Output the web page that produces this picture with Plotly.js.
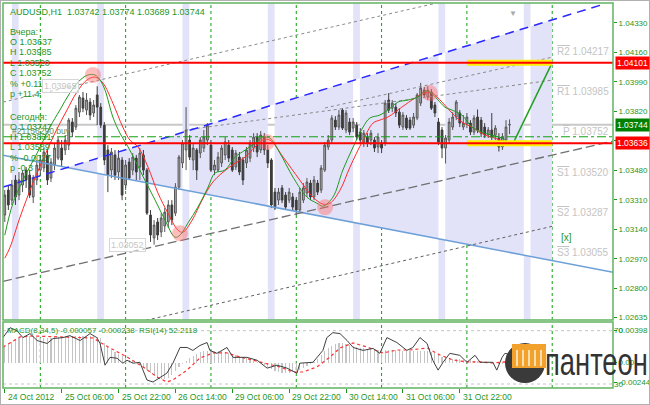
<!DOCTYPE html>
<html><head><meta charset="utf-8">
<script src="https://cdn.plot.ly/plotly-3.0.1.min.js"></script>
<style>html,body{margin:0;padding:0;background:#fff;}#chart{width:650px;height:405px;}</style>
</head><body><div id="chart"></div>
<script>
// ---------- DATA ----------
const symbolTitle = "AUDUSD,H1  1.03742 1.03774 1.03689 1.03744";
const infoYesterday = ["Вчера:", "O 1.03637", "H 1.03985", "L 1.03520", "C 1.03752", "% +0.11", "p +11.4"];
const infoToday = ["Сегодня:", "O 1.03747", "H 1.03831", "L 1.03589", "% -0.0027", "p -0.3"];
const timeLabels = ["24 Oct 2012","25 Oct 06:00","25 Oct 22:00","26 Oct 14:00","29 Oct 06:00","29 Oct 22:00","30 Oct 14:00","31 Oct 06:00","31 Oct 22:00"];
const timeLabelBars = [0,16,32,48,64,80,96,112,128];
const dayStartBars = [10,34,58,82,106,130,154];
const sessionBars = [2,26,50,74,98,122,146];
const priceTicks = [1.04330,1.04160,1.03990,1.03820,1.03650,1.03480,1.03310,1.03140,1.02970,1.02800,1.02635];
const priceTickText = ["1.04330","1.04160","1.03990","1.03820","","1.03480","1.03310","1.03140","1.02970","1.02800","1.02635"];

const opens = [1.03223,1.03367,1.03309,1.03425,1.03338,1.03396,1.03482,1.03453,1.03327,1.03425,
1.03482,1.03494,1.03569,1.03436,1.03511,1.03551,1.03609,1.03598,1.03626,1.03759,
1.03730,1.03816,1.03897,1.03828,1.03874,1.03811,1.03915,1.03845,1.03741,1.03598,
1.03482,1.03569,1.03471,1.03540,1.03396,1.03528,1.03482,1.03551,1.03500,1.03569,
1.03482,1.03223,1.03091,1.03183,1.03125,1.03160,1.03183,1.03281,1.03234,1.03384,
1.03523,1.03598,1.03655,1.03540,1.03598,1.03580,1.03609,1.03655,1.03626,1.03482,
1.03482,1.03523,1.03569,1.03626,1.03598,1.03500,1.03557,1.03540,1.03523,1.03551,
1.03609,1.03672,1.03598,1.03672,1.03598,1.03540,1.03355,1.03309,1.03379,1.03338,
1.03309,1.03327,1.03309,1.03252,1.03309,1.03350,1.03407,1.03327,1.03407,1.03367,
1.03482,1.03615,1.03655,1.03770,1.03730,1.03828,1.03713,1.03759,1.03724,1.03741,
1.03701,1.03644,1.03672,1.03655,1.03655,1.03615,1.03637,1.03638,1.03886,1.03839,
1.03845,1.03816,1.03730,1.03782,1.03770,1.03741,1.03782,1.03868,1.03943,1.03903,
1.03932,1.03857,1.03759,1.03713,1.03609,1.03655,1.03730,1.03788,1.03811,1.03730,
1.03747,1.03753,1.03701,1.03788,1.03770,1.03730,1.03684,1.03713,1.03684,1.03667,
1.03615,1.03655,1.03742];
const highs = [1.03367,1.03396,1.03425,1.03453,1.03471,1.03482,1.03500,1.03482,1.03453,1.03540,
1.03569,1.03609,1.03598,1.03551,1.03638,1.03672,1.03655,1.03684,1.03782,1.03782,
1.03857,1.03915,1.03932,1.03926,1.03897,1.03886,1.03965,1.03868,1.03759,1.03626,
1.03609,1.03598,1.03598,1.03557,1.03540,1.03551,1.03580,1.03569,1.03609,1.03598,
1.03494,1.03252,1.03194,1.03206,1.03234,1.03263,1.03309,1.03309,1.03407,1.03569,
1.03655,1.03845,1.03684,1.03638,1.03609,1.03672,1.03713,1.03753,1.03655,1.03540,
1.03586,1.03626,1.03672,1.03655,1.03615,1.03598,1.03586,1.03557,1.03615,1.03655,
1.03695,1.03695,1.03707,1.03695,1.03626,1.03551,1.03379,1.03379,1.03396,1.03355,
1.03379,1.03350,1.03327,1.03379,1.03407,1.03436,1.03425,1.03448,1.03425,1.03511,
1.03644,1.03684,1.03799,1.03793,1.03828,1.03839,1.03828,1.03782,1.03782,1.03759,
1.03724,1.03713,1.03695,1.03713,1.03672,1.03695,1.03655,1.03886,1.03926,1.03886,
1.03868,1.03839,1.03816,1.03799,1.03788,1.03811,1.03926,1.03985,1.03961,1.03966,
1.03949,1.03874,1.03782,1.03730,1.03684,1.03782,1.03816,1.03886,1.03828,1.03799,
1.03811,1.03770,1.03799,1.03831,1.03788,1.03753,1.03730,1.03811,1.03741,1.03695,
1.03695,1.03770,1.03774];
const lows = [1.03183,1.03252,1.03281,1.03281,1.03309,1.03355,1.03379,1.03321,1.03292,1.03396,
1.03453,1.03471,1.03396,1.03413,1.03482,1.03540,1.03500,1.03569,1.03598,1.03672,
1.03713,1.03788,1.03816,1.03799,1.03770,1.03788,1.03741,1.03724,1.03511,1.03355,
1.03436,1.03425,1.03425,1.03309,1.03367,1.03425,1.03453,1.03425,1.03425,1.03453,
1.03223,1.03068,1.03052,1.03079,1.03096,1.03125,1.03148,1.03165,1.03217,1.03367,
1.03494,1.03482,1.03540,1.03482,1.03425,1.03551,1.03586,1.03626,1.03471,1.03453,
1.03471,1.03500,1.03540,1.03528,1.03471,1.03482,1.03453,1.03396,1.03494,1.03528,
1.03586,1.03557,1.03580,1.03569,1.03494,1.03263,1.03252,1.03281,1.03292,1.03252,
1.03292,1.03252,1.03223,1.03234,1.03292,1.03327,1.03309,1.03309,1.03338,1.03350,
1.03471,1.03598,1.03638,1.03713,1.03713,1.03713,1.03695,1.03684,1.03701,1.03655,
1.03638,1.03615,1.03615,1.03626,1.03586,1.03580,1.03580,1.03621,1.03811,1.03816,
1.03788,1.03724,1.03713,1.03713,1.03713,1.03724,1.03770,1.03851,1.03897,1.03886,
1.03828,1.03788,1.03626,1.03551,1.03520,1.03638,1.03713,1.03770,1.03730,1.03713,
1.03724,1.03684,1.03684,1.03695,1.03672,1.03667,1.03667,1.03655,1.03655,1.03589,
1.03598,1.03638,1.03689];
const closes = [1.03338,1.03281,1.03396,1.03327,1.03425,1.03465,1.03425,1.03338,1.03436,1.03511,
1.03540,1.03586,1.03425,1.03528,1.03609,1.03655,1.03540,1.03655,1.03770,1.03701,
1.03839,1.03903,1.03839,1.03886,1.03799,1.03857,1.03845,1.03741,1.03540,1.03453,
1.03586,1.03453,1.03551,1.03338,1.03511,1.03436,1.03557,1.03471,1.03580,1.03482,
1.03234,1.03108,1.03165,1.03108,1.03206,1.03240,1.03281,1.03194,1.03384,1.03557,
1.03638,1.03713,1.03557,1.03609,1.03482,1.03655,1.03672,1.03741,1.03482,1.03511,
1.03557,1.03609,1.03644,1.03551,1.03482,1.03580,1.03471,1.03425,1.03598,1.03638,
1.03672,1.03586,1.03684,1.03598,1.03523,1.03281,1.03263,1.03355,1.03309,1.03269,
1.03355,1.03269,1.03252,1.03355,1.03379,1.03413,1.03327,1.03425,1.03355,1.03494,
1.03626,1.03655,1.03782,1.03730,1.03799,1.03724,1.03811,1.03701,1.03759,1.03672,
1.03655,1.03695,1.03638,1.03695,1.03609,1.03672,1.03609,1.03868,1.03828,1.03868,
1.03811,1.03741,1.03799,1.03724,1.03724,1.03788,1.03915,1.03955,1.03915,1.03943,
1.03839,1.03811,1.03644,1.03609,1.03667,1.03759,1.03788,1.03874,1.03753,1.03752,
1.03788,1.03701,1.03782,1.03713,1.03695,1.03684,1.03713,1.03672,1.03724,1.03615,
1.03672,1.03730,1.03744];

const maFastX = [0,2.3,5.1,9.1,12.7,15.5,18.3,21.2,23.4,25.4,26.8,28.2,30.4,32.4,34.7,36.6,39.4,42.3,45.1,47.9,49.3,51.5,54.3,57.2,59.1,61.9,64.8,67.6,70.4,72.6,74.6,77.4,81.1,85.0,87.8,89.5,92.3,95.1,98.0,100.8,102.7,105.5,107.8,110.6,113.4,116.2,118.2,119.6,121.9,123.8,125.8,128.6,131.4,134.2,137.0,139.9,141.3];
const maFastY = [1.03107,1.03291,1.03424,1.03580,1.03730,1.03828,1.03926,1.04001,1.04030,1.04030,1.04001,1.03943,1.03788,1.03695,1.03615,1.03540,1.03424,1.03309,1.03193,1.03095,1.03107,1.03176,1.03268,1.03384,1.03465,1.03482,1.03557,1.03597,1.03638,1.03672,1.03666,1.03580,1.03441,1.03326,1.03291,1.03274,1.03326,1.03482,1.03615,1.03730,1.03782,1.03799,1.03828,1.03874,1.03886,1.03903,1.03938,1.03932,1.03886,1.03845,1.03828,1.03799,1.03730,1.03701,1.03684,1.03666,1.03643];
const maSlowX = [0,1.5,4.3,7.9,10.7,14.1,17.5,20.3,23.1,25.4,27.6,30.4,33.2,35.2,37.5,40.3,43.1,45.9,48.7,50.1,52.7,55.5,58.3,61.1,64.8,67.6,70.4,72.6,74.6,78.3,83.0,86.7,89.5,91.5,94.3,97.1,100.8,103.6,105.5,107.8,111.7,115.4,118.2,120.2,123.0,125.8,128.6,131.4,135.1,137.9,140.7];
const maSlowY = [1.02974,1.03038,1.03211,1.03407,1.03540,1.03695,1.03828,1.03932,1.04001,1.04018,1.03984,1.03868,1.03730,1.03655,1.03615,1.03499,1.03349,1.03234,1.03136,1.03124,1.03193,1.03309,1.03407,1.03465,1.03522,1.03557,1.03615,1.03655,1.03655,1.03557,1.03424,1.03326,1.03286,1.03291,1.03366,1.03499,1.03655,1.03753,1.03770,1.03788,1.03845,1.03897,1.03926,1.03926,1.03874,1.03811,1.03759,1.03730,1.03684,1.03666,1.03643];

const pivotX = [24.8,49.3,73.8,90.1,119.6];
const pivotY = [1.04030,1.03118,1.03643,1.03268,1.03926];

const macdHist = [0.00211,0.00236,0.00261,0.00286,0.00311,0.00323,0.00336,0.00336,0.00336,0.00323,
0.00311,0.00311,0.00311,0.00311,0.00323,0.00323,0.00323,0.00336,0.00336,0.00336,
0.00336,0.00336,0.00336,0.00336,0.00336,0.00336,0.00323,0.00311,0.00249,0.00199,
0.00162,0.00137,0.00112,0.00087,0.00062,0.00037,0.00025,0,-0.00025,-0.00050,
-0.00087,-0.00124,-0.00162,-0.00187,-0.00199,-0.00199,-0.00187,-0.00149,-0.00100,-0.00050,
-0.00012,0.00025,0.00062,0.00087,0.00112,0.00137,0.00149,0.00149,0.00149,0.00149,
0.00149,0.00149,0.00137,0.00124,0.00112,0.00100,0.00087,0.00075,0.00062,0.00050,
0.00037,0.00012,0,-0.00025,-0.00050,-0.00075,-0.00100,-0.00112,-0.00124,-0.00124,
-0.00124,-0.00112,-0.00100,-0.00087,-0.00062,-0.00037,-0.00012,0.00012,0.00050,0.00100,
0.00149,0.00187,0.00211,0.00236,0.00249,0.00249,0.00236,0.00224,0.00211,0.00199,
0.00187,0.00187,0.00174,0.00174,0.00162,0.00162,0.00162,0.00162,0.00162,0.00162,
0.00162,0.00162,0.00149,0.00149,0.00149,0.00149,0.00149,0.00149,0.00149,0.00149,
0.00137,0.00124,0.00100,0.00075,0.00062,0.00050,0.00050,0.00050,0.00050,0.00037,
0.00037,0.00037,0.00025,0.00025,0.00025,0.00012,0.00012,0,0,-0.00012,
-0.00012,0,0];
const sigX = [-0.5,4.3,7.9,17.5,24.8,29.6,34.4,38.9,42.8,45.6,47.3,51.3,54.9,58.6,62.5,66.2,71.8,77.4,81.1,83.9,87.8,91.5,94.3,98.0,101.9,106.4,110.3,114.0,118.8,122.4,126.1,130.0,133.7,137.3,140.7,142];
const sigY = [0.00195,0.00320,0.00332,0.00320,0.00307,0.00183,0.00071,-0.00053,-0.00178,-0.00240,-0.00215,-0.00091,0.00058,0.00121,0.00121,0.00071,0.00009,-0.00053,-0.00116,-0.00116,-0.00053,0.00071,0.00183,0.00245,0.00195,0.00121,0.00158,0.00158,0.00183,0.00096,0.00034,0.00009,0.00009,-0.00004,0.00009,-0.00024];
const rsiX = [-0.5,1.5,3.4,5.1,7.1,9.1,11.9,13.6,16.4,18.3,21.2,24.0,25.9,26.8,28.2,29.6,31.6,33.2,34.4,36.1,38.0,40.0,41.7,43.7,45.6,47.3,49.3,51.3,52.9,54.9,56.9,57.7,59.7,62.5,64.2,68.1,71.0,73.8,76.6,79.4,82.2,83.0,86.7,89.5,90.6,92.3,94.3,96.3,98.0,100.8,103.6,105.5,107.5,110.3,113.1,114.8,116.8,118.8,120.4,121.9,123.3,125.2,128.0,130.0,132.3,133.7,137.3,138.4,139.9,140.7,142];
const rsiY = [64.8,72.2,70,64.8,67.8,62.6,60.4,64.1,64.8,66.3,62.6,67.8,64.8,60.4,44.1,50,49.3,45.6,47.8,45.6,46.3,33,31.5,35.2,38.1,45.6,57.4,57.4,55.2,58.9,61.1,55.2,53,57.4,50,50,47.8,41.9,44.1,41.9,38.1,45.6,46.3,55.2,64.8,68.5,67.8,62.6,57.4,55.2,56.7,53,64.8,61.1,55.2,57.4,64.8,60.4,47.8,40.4,46.3,53,51.5,46.3,51.5,46.3,46.3,40.4,50,53,52.2];

// trend lines: [bar, price] endpoints
const channelUpperX = [-0.5,168.8], channelUpperY = [1.03384,1.04440];
const channelLowerX = [-0.5,171.1], channelLowerY = [1.03568,1.02893];
const dotA_X = [-0.5,120.5], dotA_Y = [1.03874,1.04440];
const dotB_X = [90.1,154.2], dotB_Y = [1.03840,1.04134];
const dotC_X = [50.7,154.2], dotC_Y = [1.03713,1.04001];
const dashD_X = [-0.5,171.1], dashD_Y = [1.02841,1.03649];
const dotE_X = [39.7,154.2], dotE_Y = [1.02616,1.03159];
const forecastX = [143,154], forecastY = [1.03636,1.04101];
const triangleEndBar = 154;

const resistLevel = 1.04101, supportLevel = 1.03636, bidPrice = 1.03744, orderPrice = 1.03674;
const zoneStartBar = 130, zoneEndBar = 154;
const pivotNames = ["R2","R1","P","S1","S2","S3"];
const pivotLevels = [1.04217,1.03985,1.03752,1.03520,1.03287,1.03055];
const hiLabel = {bar:10.5, price:1.03965}, loLabel = {bar:29.3, price:1.03052};
const macdText = "MACD(8,34,5) -0.000057 -0.000238  RSI(14) 52.2118";

// ---------- GEOMETRY ----------
const W=650,H=405,ML=3,MR=37,MT=3,MB=17,PW=W-ML-MR,PH=H-MT-MB;
const px = x => (x-ML)/PW, py = y => (H-MB-y)/PH;
const mainDom=[py(320),1], subDom=[0,py(322)];
const xR=[-0.5,171.1], yR=[1.02618,1.04445];
const GREEN='#1f961f', FONT='Liberation Sans, Arial, sans-serif';
const bars = closes.map((c,i)=>i);

function lineAt(X,Y,x){return Y[0]+(Y[1]-Y[0])*(x-X[0])/(X[1]-X[0]);}
const up = x=>lineAt(channelUpperX,channelUpperY,x), lo = x=>lineAt(channelLowerX,channelLowerY,x);
const s1=(channelUpperY[1]-channelUpperY[0])/(channelUpperX[1]-channelUpperX[0]);
const s2=(channelLowerY[1]-channelLowerY[0])/(channelLowerX[1]-channelLowerX[0]);
const ix = channelUpperX[0] + (lo(channelUpperX[0])-channelUpperY[0])/(s1-s2);

const shapes=[];
const LAV='#e2e3f8';
function poly(pts,color){return {type:'path',xref:'x',yref:'y',layer:'below',line:{width:0},fillcolor:color,
  path:'M'+pts.map(p=>p[0]+','+p[1]).join('L')+'Z'};}
let cuts=[ix];
sessionBars.forEach(b=>{ if(b>ix && b<triangleEndBar){cuts.push(b);cuts.push(Math.min(b+1.9,triangleEndBar));}});
cuts.push(triangleEndBar);
for(let k=0;k<cuts.length;k+=2){const a=cuts[k],b=cuts[k+1]; if(b>a) shapes.push(poly([[a,up(a)],[b,up(b)],[b,lo(b)],[a,lo(a)]],LAV));}
sessionBars.forEach(b=>{const b1=b+1.9;
  if(b<ix || b>=triangleEndBar){ shapes.push(poly([[b,yR[0]],[b1,yR[0]],[b1,yR[1]],[b,yR[1]]],LAV)); }
  else { shapes.push(poly([[b,yR[1]],[b1,yR[1]],[b1,up(b1)],[b,up(b)]],LAV));
         shapes.push(poly([[b,lo(b)],[b1,lo(b1)],[b1,yR[0]],[b,yR[0]]],LAV)); }
});
dayStartBars.forEach(b=>{
  [mainDom,subDom].forEach(d=>shapes.push({type:'line',xref:'x',yref:'paper',x0:b,x1:b,y0:d[0],y1:d[1],layer:'below',line:{color:'#10a010',width:1,dash:'3px,3px'}}));
});
shapes.push({type:'line',xref:'paper',yref:'y',x0:0,x1:1,y0:bidPrice,y1:bidPrice,layer:'below',line:{color:'#c8c8c8',width:2}});
shapes.push({type:'line',xref:'paper',yref:'y',x0:0,x1:1,y0:orderPrice,y1:orderPrice,layer:'above',line:{color:'#10a010',width:1,dash:'dashdot'}});
[resistLevel,supportLevel].forEach(v=>{
  shapes.push({type:'line',xref:'x',yref:'y',x0:zoneStartBar,x1:zoneEndBar,y0:v,y1:v,layer:'above',line:{color:'#ffee00',width:6}});
  shapes.push({type:'line',xref:'paper',yref:'y',x0:0,x1:1,y0:v,y1:v,layer:'above',line:{color:'#ff0000',width:2}});
});
[70,30].forEach(v=>shapes.push({type:'line',xref:'paper',yref:'y3',x0:0,x1:1,y0:v,y1:v,layer:'below',line:{color:'#c4c4c4',width:1,dash:'3px,3px'}}));
[mainDom,subDom].forEach(d=>shapes.push({type:'rect',xref:'paper',yref:'paper',x0:0,x1:1,y0:d[0],y1:d[1],layer:'above',line:{color:'#62b462',width:1.5}}));
shapes.push({type:'rect',xref:'paper',yref:'paper',x0:px(0),x1:px(650),y0:py(405),y1:py(0),layer:'above',line:{color:'#b0b0b0',width:2}});
// logo icon
shapes.push({type:'circle',xref:'paper',yref:'paper',x0:px(505),x1:px(545),y0:py(383),y1:py(343),layer:'above',fillcolor:'#3a3a3a',line:{width:0}});
shapes.push({type:'rect',xref:'paper',yref:'paper',x0:px(512),x1:px(546),y0:py(368),y1:py(344),layer:'above',fillcolor:'#f2a22c',line:{width:0}});
[517,523,529,535,541].forEach(x=>shapes.push({type:'line',xref:'paper',yref:'paper',x0:px(x),x1:px(x),y0:py(366),y1:py(350),layer:'above',line:{color:'#fff3d8',width:1.5}}));

// ---------- TRACES ----------
const traces=[];
function tl(X,Y,color,width,dash,ya){traces.push({type:'scatter',mode:'lines',x:X,y:Y,yaxis:ya||'y',line:{color:color,width:width,dash:dash||'solid'},hoverinfo:'skip',cliponaxis:true});}
tl(channelLowerX,channelLowerY,'#6ea0d8',1.5,'solid');
tl(dashD_X,dashD_Y,'#707070',1.3,'9px,4px');
tl(dotE_X,dotE_Y,'#606060',1,'3px,3px');
tl(dotA_X,dotA_Y,'#8a8a8a',1,'3px,3px');
tl(dotB_X,dotB_Y,'#8a8a8a',1,'3px,3px');
tl(dotC_X,dotC_Y,'#8a8a8a',1,'3px,3px');
tl(channelUpperX,channelUpperY,'#2828ff',1.5,'9px,6px');
traces.push({type:'candlestick',x:bars,open:opens,high:highs,low:lows,close:closes,whiskerwidth:0,
  increasing:{line:{color:'#555555',width:1},fillcolor:'#b4b4b4'},decreasing:{line:{color:'#3c3c3c',width:1},fillcolor:'#3c3c3c'},hoverinfo:'skip',showlegend:false});
traces.push({type:'scatter',mode:'lines',x:maSlowX,y:maSlowY,line:{color:'#ff2a2a',width:1,shape:'spline'},hoverinfo:'skip'});
traces.push({type:'scatter',mode:'lines',x:maFastX,y:maFastY,line:{color:'#1e9a1e',width:1,shape:'spline'},hoverinfo:'skip'});
traces.push({type:'scatter',mode:'markers',x:pivotX,y:pivotY,marker:{size:16,color:'rgba(255,110,110,0.45)',line:{width:0}},hoverinfo:'skip'});
tl(forecastX,forecastY,'#22a022',1.5,'solid');
traces.push({type:'bar',x:bars,y:macdHist,yaxis:'y2',marker:{color:'#c4c4c4',line:{width:0}},width:0.32,hoverinfo:'skip'});
tl(sigX,sigY,'#ff3030',1.2,'dot','y2');
tl(rsiX,rsiY,'#404040',1,'solid','y3');

// ---------- ANNOTATIONS ----------
const ann=[];
function txt(x,y,text,o){ann.push(Object.assign({xref:'paper',yref:'paper',x:px(x),y:py(y),text:text,showarrow:false,xanchor:'left',yanchor:'middle',font:{family:FONT,size:9,color:GREEN}},o||{}));}
txt(8,11.7,symbolTitle);
const yPosY=[31.7,41.7,52.3,62.7,73.3,84,94.3];
infoYesterday.forEach((t,k)=>txt(8,yPosY[k],t));
const yPosT=[116.7,126.7,136.7,146.7,158.3,168.3];
infoToday.forEach((t,k)=>txt(8,yPosT[k],t));
txt(10,131,'#21156290 buy',{font:{family:FONT,size:8.5,color:'#5f8f5f'}});
txt(5,330.5,macdText,{font:{family:FONT,size:8,color:GREEN}});
timeLabels.forEach((t,k)=>ann.push({xref:'x',yref:'paper',x:timeLabelBars[k],y:0,yshift:-2,xshift:1,xanchor:'left',yanchor:'top',text:t,showarrow:false,font:{family:FONT,size:8.5,color:GREEN}}));
pivotNames.forEach((n,k)=>ann.push({xref:'paper',yref:'y',x:1,xshift:-2,y:pivotLevels[k],yshift:-1,xanchor:'right',yanchor:'top',showarrow:false,
  text:'<span style="text-decoration:overline">'+n+'</span> '+pivotLevels[k].toFixed(5),font:{family:FONT,size:10,color:'#c4c4c4'}}));
[[resistLevel,'#ff0000'],[bidPrice,'#008000'],[supportLevel,'#ff0000']].forEach(a=>ann.push({xref:'paper',yref:'y',x:1,xshift:2,y:a[0],xanchor:'left',yanchor:'middle',
  text:a[0].toFixed(5),showarrow:false,bgcolor:a[1],borderpad:1,font:{family:FONT,size:8.5,color:'#ffffff'}}));
[hiLabel,loLabel].forEach(l=>ann.push({xref:'x',yref:'y',x:l.bar,y:l.price,xanchor:'left',yanchor:'middle',text:l.price.toFixed(5),showarrow:false,
  bordercolor:'#d6d6d6',borderwidth:1,borderpad:1,bgcolor:'rgba(255,255,255,0.5)',font:{family:FONT,size:9,color:'#c6c6c6'}}));
ann.push({xref:'x',yref:'y',x:158,y:1.03095,text:'[x]',showarrow:false,font:{family:FONT,size:10,color:GREEN}});
ann.push({xref:'x',yref:'paper',x:143,y:1,yshift:-4,text:'▼',showarrow:false,font:{family:FONT,size:8,color:'#a8a8a8'}});
ann.push({xref:'paper',yref:'paper',x:px(596),y:py(362),text:'пантеон',showarrow:false,xanchor:'center',yanchor:'middle',font:{family:FONT,size:38,color:'#333333'}});

const layout={width:W,height:H,margin:{l:ML,r:MR,t:MT,b:MB},paper_bgcolor:'#ffffff',plot_bgcolor:'#ffffff',showlegend:false,bargap:0,
  xaxis:{range:xR,anchor:'y2',showgrid:false,zeroline:false,showline:false,tickvals:timeLabelBars,ticks:'outside',ticklen:4,tickcolor:GREEN,showticklabels:false,rangeslider:{visible:false},fixedrange:true},
  yaxis:{domain:mainDom,range:yR,side:'right',showgrid:false,zeroline:false,tickvals:priceTicks,ticktext:priceTickText,ticks:'outside',ticklen:3,tickcolor:GREEN,tickfont:{family:FONT,size:8,color:GREEN},fixedrange:true},
  yaxis2:{domain:subDom,range:[-0.00315,0.00506],side:'right',showgrid:false,zeroline:false,tickvals:[0.00398,0,-0.00244],ticktext:['0.00398','0.00','-0.00244'],ticks:'outside',ticklen:3,tickcolor:GREEN,tickfont:{family:FONT,size:8,color:GREEN},fixedrange:true},
  yaxis3:{overlaying:'y2',range:[27,76.5],side:'right',showgrid:false,zeroline:false,tickvals:[70,30],ticks:'',tickfont:{family:FONT,size:8,color:GREEN},fixedrange:true},
  shapes:shapes,annotations:ann};
Plotly.newPlot('chart',traces,layout,{staticPlot:true,displayModeBar:false}).then(gd=>{
  gd.querySelectorAll('.annotation-text').forEach(t=>{ if(t.textContent==='пантеон'){const x=+t.getAttribute('x')||0; t.setAttribute('transform','translate('+x+',0) scale(0.72,1) translate('+(-x)+',0)');}});
});
</script></body></html>
